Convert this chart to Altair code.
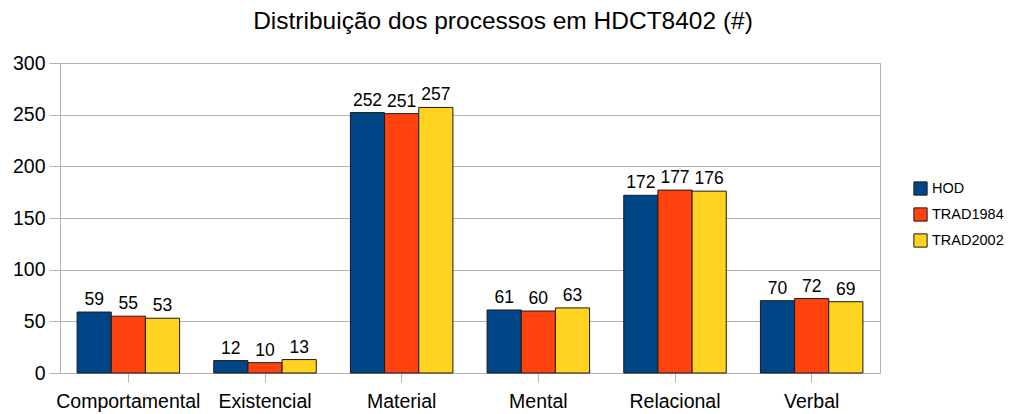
import altair as alt
import pandas as pd

categories = ["Comportamental", "Existencial", "Material", "Mental", "Relacional", "Verbal"]
series = ["HOD", "TRAD1984", "TRAD2002"]
hod = [59, 12, 252, 61, 172, 70]
trad1984 = [55, 10, 251, 60, 177, 72]
trad2002 = [53, 13, 257, 63, 176, 69]
colors = ["#004586", "#ff420e", "#ffd320"]

rows = []
for i, c in enumerate(categories):
    for s, vals in zip(series, [hod, trad1984, trad2002]):
        rows.append({"categoria": c, "serie": s, "valor": vals[i]})
df = pd.DataFrame(rows)

FONT = "Liberation Sans"

x = alt.X("categoria:N", sort=categories, title=None,
          scale=alt.Scale(paddingInner=0.25, paddingOuter=0.125),
          axis=alt.Axis(labelAngle=0, labelFontSize=19.5, labelColor="#000", labelFont=FONT,
                        domain=False, tickColor="#b3b3b3", tickSize=9, labelPadding=10,
                        grid=False))
y = alt.Y("valor:Q", title=None,
          scale=alt.Scale(domain=[0, 300], nice=False),
          axis=alt.Axis(values=[0, 50, 100, 150, 200, 250, 300], labelFontSize=19.5,
                        labelColor="#000", labelFont=FONT, domainColor="#b3b3b3",
                        tickColor="#b3b3b3", tickSize=11, labelPadding=4,
                        gridColor="#b3b3b3", gridWidth=1))
xo = alt.XOffset("serie:N", sort=series)

base = alt.Chart(df).encode(x=x, xOffset=xo)

bars = base.mark_bar(stroke="#1a1a1a", strokeWidth=1).encode(
    y=y,
    color=alt.Color("serie:N", sort=series, title=None,
                    scale=alt.Scale(domain=series, range=colors),
                    legend=alt.Legend(orient="none", legendX=853, legendY=118,
                                      symbolType="square", symbolSize=175,
                                      symbolStrokeColor="#1a1a1a", symbolStrokeWidth=1,
                                      labelFontSize=14.5, labelFont=FONT, labelColor="#000",
                                      rowPadding=7, labelOffset=4, labelLimit=200)),
)

labels = base.mark_text(baseline="bottom", dy=-3, fontSize=17.5, font=FONT, color="#000").encode(
    y=alt.Y("valor:Q"),
    text=alt.Text("valor:Q"),
)

chart = (bars + labels).properties(
    width=820, height=310,
    padding={"left": 52, "top": 55, "right": 124, "bottom": 42},
    autosize=alt.AutoSizeParams(type="none"),
    title=alt.TitleParams("Distribuição dos processos em HDCT8402 (#)", fontSize=24.5,
                          font=FONT, fontWeight="normal", color="#000",
                          anchor="middle", dx=33, offset=19),
).configure_view(stroke="#b3b3b3", strokeWidth=1)

chart.save("out.html", embed_options={"renderer": "svg", "actions": False})
